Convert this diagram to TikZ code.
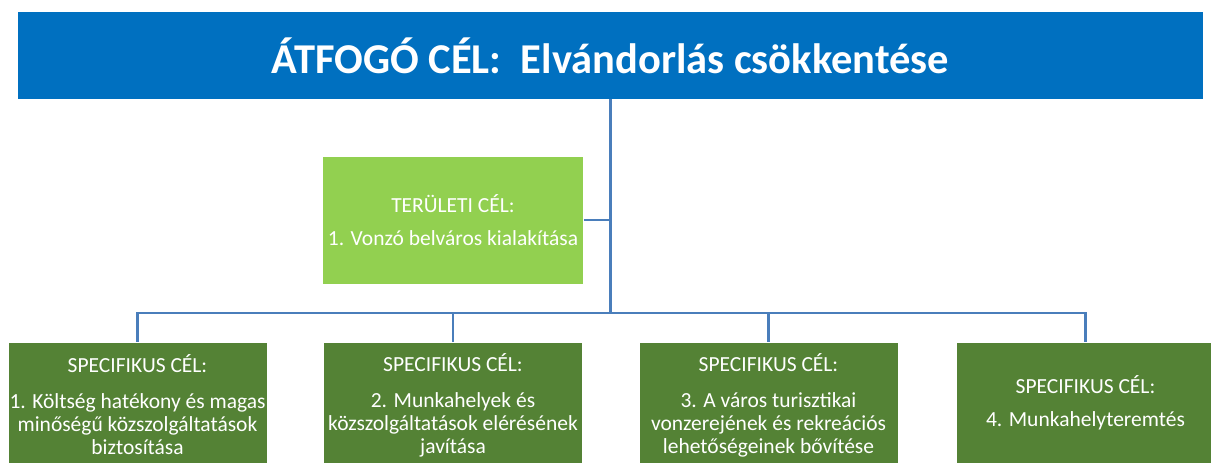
\documentclass[tikz,border=0pt]{standalone}
\usepackage{fontspec}
\setmainfont{Carlito}
\definecolor{topblue}{HTML}{0070C0}
\definecolor{lightgreen}{HTML}{92D050}
\definecolor{darkgreen}{HTML}{548235}
\definecolor{linkblue}{HTML}{4A7EBB}
\begin{document}
\begin{tikzpicture}[x=1pt,y=-1pt,
  titlebox/.style={fill=topblue,draw=none,minimum width=1185pt,minimum height=87pt,inner sep=0pt,text=white,font=\fontsize{42.5}{48}\selectfont\bfseries},
  areabox/.style={fill=lightgreen,draw=white,line width=0.6pt,minimum width=261pt,minimum height=128pt,inner sep=0pt,text=white,align=center,font=\fontsize{21.5}{23}\selectfont},
  specbox/.style={fill=darkgreen,draw=white,line width=0.6pt,minimum width=259pt,minimum height=126pt,inner sep=0pt,text=white,align=center,font=\fontsize{21.5}{23}\selectfont},
  link/.style={draw=linkblue,line width=2.5pt}
]
\useasboundingbox (0,0) rectangle (1211,463);
\node[titlebox] (top) at (610.5,55.5) {ÁTFOGÓ CÉL:\ \ Elvándorlás csökkentése};
\node[areabox] (area) at (453,220) {TERÜLETI CÉL:\\[10pt]1. Vonzó belváros kialakítása};
\node[specbox] (s1) at (137.5,405) {SPECIFIKUS CÉL:\\[13pt]1. Költség hatékony és magas\\minőségű közszolgáltatások\\biztosítása};
\node[specbox] (s2) at (453,405) {SPECIFIKUS CÉL:\\[13pt]2. Munkahelyek és\\közszolgáltatások elérésének\\javítása};
\node[specbox] (s3) at (768.5,405) {SPECIFIKUS CÉL:\\[13pt]3. A város turisztikai\\vonzerejének és rekreációs\\lehetőségeinek bővítése};
\node[specbox] (s4) at (1085.5,405) {SPECIFIKUS CÉL:\\[10pt]4. Munkahelyteremtés\\[-16pt]\mbox{}};
\coordinate (hub) at (610.5,313);
\coordinate (mid) at (610.5,220);
\draw[link] (top.south -| hub) -- (hub);
\draw[link] (area.east) -- (mid);
\draw[link] (s1.north) -- (s1.north |- hub) -- (s4.north |- hub) -- (s4.north);
\draw[link] (s2.north) -- (s2.north |- hub);
\draw[link] (s3.north) -- (s3.north |- hub);
\end{tikzpicture}
\end{document}
